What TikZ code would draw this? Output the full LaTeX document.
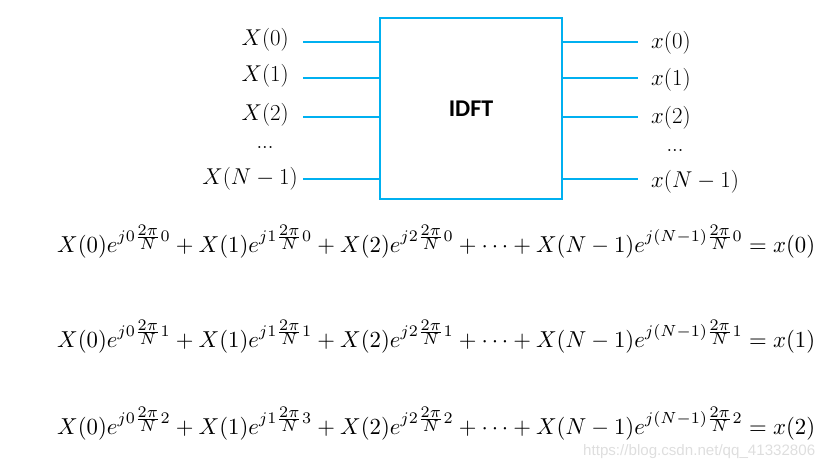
\documentclass[tikz,border=0pt]{standalone}
\usepackage{amsmath}
\usepackage{graphicx}
\usepackage{fontspec}
\newfontfamily\calib{Carlito}
\newfontfamily\wmfont{Liberation Sans}
\definecolor{lineblue}{RGB}{0,176,240}
\definecolor{wmgray}{RGB}{222,222,222}
\tikzset{
  conn/.style={draw=lineblue, line width=1.8pt},
  blockbox/.style={draw=lineblue, line width=2.2pt, minimum width=182pt, minimum height=181pt, inner sep=0pt},
  inlab/.style={anchor=east, inner sep=0pt, font=\fontsize{24.88}{28}\selectfont},
  outlab/.style={anchor=west, inner sep=0pt, font=\fontsize{24.88}{28}\selectfont},
  dotlab/.style={inner sep=0pt, font=\fontsize{24.88}{28}\selectfont},
  eqn/.style={anchor=west, inner sep=0pt}
}
\newcommand{\lab}[1]{\scalebox{0.92}{$#1$}}
\newcommand{\eqfit}[1]{\resizebox*{758pt}{33pt}{$#1$}}
\newcommand{\twopin}{\frac{\scriptstyle 2\pi}{\scriptstyle N}}
\begin{document}
\begin{tikzpicture}[x=1pt,y=-1pt]
\useasboundingbox (0,0) rectangle (826,465);
\node[blockbox] (box) at (471,108.5) {\fontsize{24}{28}\selectfont\calib\bfseries IDFT};
% line ends
\coordinate (i0) at (303,42);
\coordinate (i1) at (303,78);
\coordinate (i2) at (303,117);
\coordinate (i3) at (303,179);
\coordinate (o0) at (638,42);
\coordinate (o1) at (638,78);
\coordinate (o2) at (638,117);
\coordinate (o3) at (638,179);
\draw[conn] (i0) -- (box.west |- i0);
\draw[conn] (i1) -- (box.west |- i1);
\draw[conn] (i2) -- (box.west |- i2);
\draw[conn] (i3) -- (box.west |- i3);
\draw[conn] (box.east |- o0) -- (o0);
\draw[conn] (box.east |- o1) -- (o1);
\draw[conn] (box.east |- o2) -- (o2);
\draw[conn] (box.east |- o3) -- (o3);
% labels
\node[inlab] (X0) at (289,40) {\lab{X(0)}};
\node[inlab] (X1) at (289,76) {\lab{X(1)}};
\node[inlab] (X2) at (289,115) {\lab{X(2)}};
\node[dotlab] (Xd) at (265,147) {$\scriptstyle\ldots$};
\node[inlab] (X3) at (298,179) {\lab{X(N-1)}};
\node[outlab] (x0) at (651,43) {\lab{x(0)}};
\node[outlab] (x1) at (651,80) {\lab{x(1)}};
\node[outlab] (x2) at (651,118) {\lab{x(2)}};
\node[dotlab] (xd) at (675,150) {$\scriptstyle\ldots$};
\node[outlab] (x3) at (651,182) {\lab{x(N-1)}};
% equations
\node[eqn] (eq0) at (57,241.5) {\eqfit{X(0)e^{j0\twopin 0}+X(1)e^{j1\twopin 0}+X(2)e^{j2\twopin 0}+\cdots+X(N-1)e^{j(N-1)\twopin 0}=x(0)}};
\node[eqn] (eq1) at (57,336.5) {\eqfit{X(0)e^{j0\twopin 1}+X(1)e^{j1\twopin 1}+X(2)e^{j2\twopin 1}+\cdots+X(N-1)e^{j(N-1)\twopin 1}=x(1)}};
\node[eqn] (eq2) at (57,423.5) {\eqfit{X(0)e^{j0\twopin 2}+X(1)e^{j1\twopin 3}+X(2)e^{j2\twopin 2}+\cdots+X(N-1)e^{j(N-1)\twopin 2}=x(2)}};
% watermark
\node[anchor=west, inner sep=0pt, text=wmgray] (wm) at (583,452) {\resizebox{232pt}{!}{\wmfont https://blog.csdn.net/qq\_41332806}};
\end{tikzpicture}
\end{document}
